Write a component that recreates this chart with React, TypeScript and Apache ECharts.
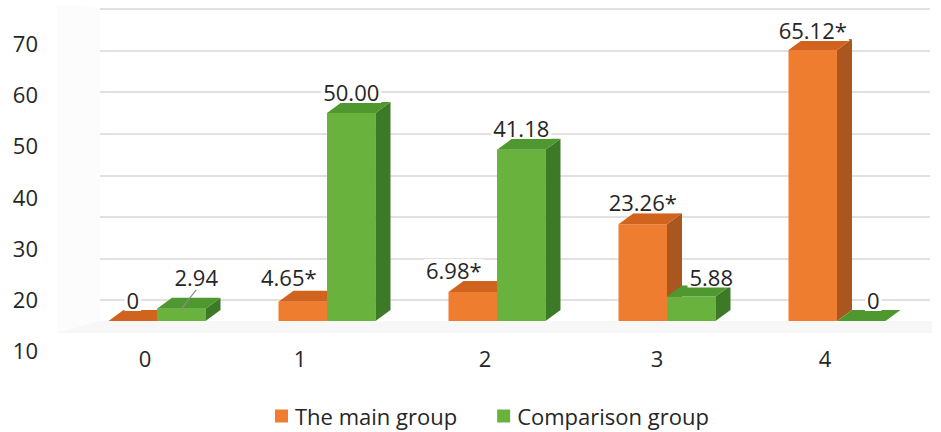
import React, { useEffect, useRef } from "react";
import * as echarts from "echarts";

const categories = ["0", "1", "2", "3", "4"];
const mainGroup = [0, 4.65, 6.98, 23.26, 65.12];
const comparisonGroup = [2.94, 50.0, 41.18, 5.88, 0];
const mainLabels = ["0", "4.65*", "6.98*", "23.26*", "65.12*"];
const comparisonLabels = ["2.94", "50.00", "41.18", "5.88", "0"];
const seriesNames = ["The main group", "Comparison group"];

// label nudges (style only): [dx, dy, leaderLine]
const mainNudge: [number, number, boolean][] = [[0, 0, false], [-14, -4, false], [-19, -1, false], [0, -1, false], [0, 1, false]];
const compNudge: [number, number, boolean][] = [[15, -11, true], [0, 0, false], [0, -1, false], [20, 1, false], [12, 0, false]];
// x-axis label nudge (style only), extra right padding per category
const catLabelPad = [24, 54, 24, 20, 24];

const FONT = "'Open Sans', 'Noto Sans', sans-serif";
const FS = 22;
const TEXT = "#262626";
const PALETTE = [
  { front: "#EE7D30", top: "#D0641E", side: "#A9561F" },
  { front: "#6AB23E", top: "#4E982F", side: "#3D7A27" },
];

export default function App() {
  const ref = useRef<HTMLDivElement>(null);
  useEffect(() => {
    document.body.style.margin = "0";
    const chart = echarts.init(ref.current!, undefined, { renderer: "svg" });
    const DX = 15;
    const DY = -11;
    const BW = 48.5;

    const makeRender = (sIdx: number) => (params: any, api: any) => {
      const i = api.value(0);
      const v = api.value(1);
      const base = api.coord([i, 0]);
      const top = api.coord([i, v]);
      const x0 = sIdx === 0 ? base[0] - BW : base[0];
      const x1 = x0 + BW;
      const yb = base[1];
      const yt = top[1];
      const c = PALETTE[sIdx];
      const labels = sIdx === 0 ? mainLabels : comparisonLabels;
      const nudge = sIdx === 0 ? mainNudge : compNudge;
      const [ndx, ndy, leader] = nudge[i];
      const lx = x0 + BW / 2 + ndx;
      const ly = yt + DY - 10 + ndy;
      const children: any[] = [
        { type: "rect", shape: { x: x0, y: yt, width: BW, height: Math.max(0, yb - yt) }, style: { fill: c.front } },
        { type: "polygon", shape: { points: [[x1, yt], [x1 + DX, yt + DY], [x1 + DX, yb + DY], [x1, yb]] }, style: { fill: c.side } },
        { type: "polygon", shape: { points: [[x0, yt], [x1, yt], [x1 + DX, yt + DY], [x0 + DX, yt + DY]] }, style: { fill: c.top } },
      ];
      if (leader) {
        children.push({
          type: "line",
          z2: 90,
          shape: { x1: x0 + BW / 2, y1: yt, x2: lx, y2: ly + 13 },
          style: { stroke: "#8c8c8c", lineWidth: 1.2 },
        });
      }
      children.push({
        type: "text",
        z2: 100,
        x: lx,
        y: ly,
        style: {
          text: labels[i],
          fontSize: FS,
          fontFamily: FONT,
          fill: TEXT,
          align: "center",
          verticalAlign: "middle",
          backgroundColor: "#ffffff",
          padding: [0, 2],
        },
      });
      return { type: "group", children };
    };

    const rich: any = {};
    catLabelPad.forEach((p, i) => {
      rich["c" + i] = { fontSize: FS, color: TEXT, fontFamily: FONT, padding: [0, p, 0, 0] };
    });

    chart.setOption({
      animation: false,
      color: [PALETTE[0].front, PALETTE[1].front],
      textStyle: { fontFamily: FONT },
      graphic: [
        { type: "rect", z: -10, shape: { x: 57, y: 321, width: 875, height: 12 }, style: { fill: "#f7f7f7" } },
        { type: "polygon", z: -10, shape: { points: [[57, 5], [100, 7], [100, 321], [57, 333]] }, style: { fill: "#fcfcfc" } },
      ],
      legend: {
        top: 400,
        left: 270,
        icon: "rect",
        itemWidth: 13,
        itemHeight: 13,
        itemGap: 40,
        textStyle: { fontSize: FS, color: TEXT, fontFamily: FONT, padding: [0, 0, 0, 2] },
        data: seriesNames,
      },
      grid: [
        { left: 72, right: 19, top: 9, height: 312 },
        { left: 46, width: 20, top: 43, height: 307 },
        { left: 100, right: 11, top: 9, height: 291 },
      ],
      xAxis: [
        {
          type: "category",
          gridIndex: 0,
          data: categories,
          axisLine: { show: false },
          axisTick: { show: false },
          axisLabel: {
            fontSize: FS,
            color: TEXT,
            fontFamily: FONT,
            margin: 26,
            formatter: (val: string, idx: number) => `{c${idx}|${val}}`,
            rich,
          },
        },
        { type: "value", gridIndex: 1, show: false },
        { type: "value", gridIndex: 2, show: false },
      ],
      yAxis: [
        { type: "value", gridIndex: 0, min: 0, max: 75, show: false, splitLine: { show: false } },
        {
          type: "value",
          gridIndex: 1,
          min: 10,
          max: 70,
          interval: 10,
          axisLine: { show: false },
          axisTick: { show: false },
          splitLine: { show: false },
          axisLabel: { fontSize: FS, color: TEXT, fontFamily: FONT, margin: 8 },
        },
        {
          type: "value",
          gridIndex: 2,
          min: 0,
          max: 70,
          interval: 10,
          axisLine: { show: false },
          axisTick: { show: false },
          axisLabel: { show: false },
          splitLine: { show: true, lineStyle: { color: "#ddd6d6", width: 1.5 } },
        },
      ],
      series: [
        {
          name: seriesNames[0],
          type: "custom",
          xAxisIndex: 0,
          yAxisIndex: 0,
          itemStyle: { color: PALETTE[0].front },
          renderItem: makeRender(0),
          encode: { x: 0, y: 1 },
          data: mainGroup.map((v, i) => [i, v]),
        },
        {
          name: seriesNames[1],
          type: "custom",
          xAxisIndex: 0,
          yAxisIndex: 0,
          itemStyle: { color: PALETTE[1].front },
          renderItem: makeRender(1),
          encode: { x: 0, y: 1 },
          data: comparisonGroup.map((v, i) => [i, v]),
        },
      ],
    });
    return () => chart.dispose();
  }, []);
  return <div ref={ref} style={{ width: 941, height: 432 }} />;
}
